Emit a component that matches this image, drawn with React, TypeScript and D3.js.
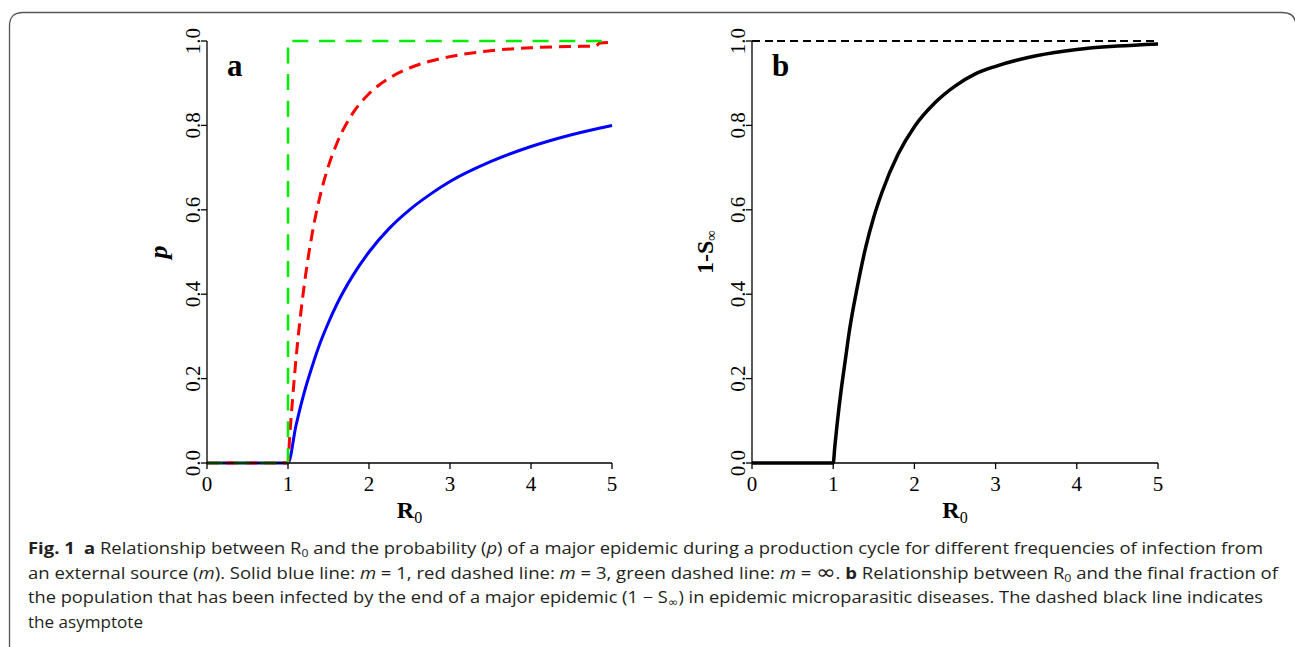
import React from 'react';
import * as d3 from 'd3';

// ---- Data ----
const R0_TICKS = [0, 1, 2, 3, 4, 5];
const Y_TICKS = [0, 0.2, 0.4, 0.6, 0.8, 1.0];

// Panel a: blue solid (m = 1)
const blueR0 = [0, 1, 1.1, 1.2, 1.3, 1.4, 1.5, 1.6, 1.8, 2.0, 2.25, 2.5, 2.75, 3.0, 3.5, 4.0, 4.5, 5.0];
const blueP = [0, 0, 0.09, 0.167, 0.23, 0.286, 0.333, 0.375, 0.444, 0.5, 0.556, 0.6, 0.636, 0.667, 0.714, 0.75, 0.778, 0.8];

// Panel a: red dashed (m = 3)
const redR0 = [0, 1, 1.02, 1.05, 1.1, 1.15, 1.2, 1.3, 1.4, 1.5, 1.6, 1.8, 2.0, 2.25, 2.5, 2.75, 3.0, 3.5, 4.0, 4.5, 4.8, 4.85, 5.0];
const redP = [0, 0, 0.06, 0.136, 0.249, 0.342, 0.421, 0.545, 0.636, 0.704, 0.756, 0.829, 0.875, 0.912, 0.936, 0.952, 0.963, 0.977, 0.984, 0.987, 0.988, 0.995, 0.997];

// Panel a: green dashed (m = infinity)
const greenR0 = [0, 1, 1, 5];
const greenP = [0, 0, 1, 1];

// Panel b: final size 1 - S_inf
const finalR0 = [0, 1, 1.02, 1.05, 1.1, 1.15, 1.2, 1.3, 1.4, 1.5, 1.6, 1.8, 2.0, 2.25, 2.5, 2.75, 3.0, 3.5, 4.0, 4.5, 5.0];
const finalS = [0, 0, 0.039, 0.095, 0.176, 0.245, 0.314, 0.42, 0.511, 0.583, 0.641, 0.732, 0.797, 0.853, 0.893, 0.922, 0.94, 0.965, 0.98, 0.988, 0.993];

// Asymptote
const asymR0 = [0, 5];
const asymY = [1, 1];

const serif = '"Liberation Serif", "DejaVu Serif", serif';
const sans = '"Open Sans", "Noto Sans", sans-serif';

type Series = { xs: number[]; ys: number[]; color: string; width: number; dash?: string; smooth?: boolean; crisp?: boolean };

function Panel({ left, right, top, bottom, series, label, yLabel }: {
  left: number; right: number; top: number; bottom: number;
  series: Series[]; label: string; yLabel: React.ReactNode;
}) {
  const x = d3.scaleLinear().domain([0, 5]).range([left, right]);
  const y = d3.scaleLinear().domain([0, 1]).range([bottom, top]);
  const fmt = d3.format('.1f');
  return (
    <g>
      {series.map((s, i) => {
        const line = d3.line<[number, number]>().x(d => x(d[0])).y(d => y(d[1]))
          .curve(s.smooth ? d3.curveMonotoneX : d3.curveLinear);
        return (
          <path key={i} d={line(s.xs.map((v, j) => [v, s.ys[j]] as [number, number])) || ''}
            fill="none" stroke={s.color} strokeWidth={s.width} strokeDasharray={s.dash}
            strokeLinejoin="round" shapeRendering={s.crisp ? 'crispEdges' : undefined} />
        );
      })}
      {/* axes */}
      <line x1={left} x2={left} y1={y(1)} y2={y(0)} stroke="#000" strokeWidth={1.3} />
      <line x1={x(0)} x2={x(5)} y1={bottom} y2={bottom} stroke="#000" strokeWidth={1.3} />
      {R0_TICKS.map(t => (
        <g key={'x' + t}>
          <line x1={x(t)} x2={x(t)} y1={bottom} y2={bottom + 6} stroke="#000" strokeWidth={1.3} />
          <text x={x(t)} y={bottom + 28} textAnchor="middle" fontFamily={serif} fontSize={21}>{t}</text>
        </g>
      ))}
      {Y_TICKS.map(t => (
        <g key={'y' + t}>
          <line x1={left - 6} x2={left} y1={y(t)} y2={y(t)} stroke="#000" strokeWidth={1.3} />
          <text transform={`translate(${left - 7},${y(t)}) rotate(-90)`} textAnchor="middle"
            fontFamily={serif} fontSize={21}>{fmt(t)}</text>
        </g>
      ))}
      <text x={(left + right) / 2} y={bottom + 55} textAnchor="middle" fontFamily={serif}>
        <tspan fontWeight="bold" fontSize={24}>R</tspan>
        <tspan fontSize={16} dy={5}>0</tspan>
      </text>
      {yLabel}
      <text x={left + 20} y={76} fontFamily={serif} fontWeight="bold" fontSize={31}>{label}</text>
    </g>
  );
}

export default function App() {
  const top = 41, bottom = 463;
  return (
    <svg width={1295} height={647} style={{ position: 'absolute', left: 0, top: 0, background: '#fff' }}>
      <rect x={0} y={0} width={1295} height={647} fill="#fff" />
      <path d="M 9.5 647 L 9.5 26 Q 9.5 12.5 23 12.5 L 1282 12.5 Q 1296 12.5 1296 26 L 1296 647"
        fill="none" stroke="#555" strokeWidth={1.3} />
      <Panel left={207} right={612} top={top} bottom={bottom} label="a"
        series={[
          { xs: blueR0, ys: blueP, color: '#0000ff', width: 3, smooth: true },
          { xs: redR0, ys: redP, color: '#ff0000', width: 3, dash: '12 7', smooth: true },
          { xs: greenR0, ys: greenP, color: '#00ee00', width: 2.5, dash: '16 10.7' },
        ]}
        yLabel={<text transform={`translate(167,252) rotate(-90)`} textAnchor="middle" fontFamily={serif}
          fontWeight="bold" fontStyle="italic" fontSize={26}>p</text>}
      />
      <Panel left={752} right={1158} top={top} bottom={bottom} label="b"
        series={[
          { xs: asymR0, ys: asymY, color: '#000', width: 1.3, dash: '8 4.7', crisp: true },
          { xs: finalR0, ys: finalS, color: '#000', width: 3.5, smooth: true },
        ]}
        yLabel={<text transform={`translate(713,252) rotate(-90)`} textAnchor="middle" fontFamily={serif}>
          <tspan fontWeight="bold" fontSize={24}>1-S</tspan>
          <tspan fontSize={15} dy={3}>∞</tspan>
        </text>}
      />
      <g fontFamily={sans} fontSize={15.8} fill="#231f20">
        <text x={28} y={554} textLength={1235} lengthAdjust="spacingAndGlyphs">
          <tspan fontWeight="bold">Fig. 1</tspan>
          <tspan fontWeight="bold" dx={8}>a</tspan>
          <tspan> Relationship between R</tspan>
          <tspan fontSize={10.5} dy={3}>0</tspan>
          <tspan dy={-3}> and the probability (</tspan>
          <tspan fontStyle="italic">p</tspan>
          <tspan>) of a major epidemic during a production cycle for different frequencies of infection from</tspan>
        </text>
        <text x={28} y={578.5} textLength={1250} lengthAdjust="spacingAndGlyphs">
          <tspan>an external source (</tspan>
          <tspan fontStyle="italic">m</tspan>
          <tspan>). Solid blue line: </tspan>
          <tspan fontStyle="italic">m</tspan>
          <tspan> = 1, red dashed line: </tspan>
          <tspan fontStyle="italic">m</tspan>
          <tspan> = 3, green dashed line: </tspan>
          <tspan fontStyle="italic">m</tspan>
          <tspan> = </tspan>
          <tspan fontSize={20} fontFamily={'"DejaVu Sans", sans-serif'}>∞</tspan>
          <tspan>. </tspan>
          <tspan fontWeight="bold">b</tspan>
          <tspan> Relationship between R</tspan>
          <tspan fontSize={10.5} dy={3}>0</tspan>
          <tspan dy={-3}> and the final fraction of</tspan>
        </text>
        <text x={28} y={603} textLength={1235} lengthAdjust="spacingAndGlyphs">
          <tspan>the population that has been infected by the end of a major epidemic (1 − S</tspan>
          <tspan fontSize={11} dy={3} fontFamily={'"DejaVu Sans", sans-serif'}>∞</tspan>
          <tspan dy={-3}>) in epidemic microparasitic diseases. The dashed black line indicates</tspan>
        </text>
        <text x={28} y={627.5} textLength={115} lengthAdjust="spacingAndGlyphs">the asymptote</text>
      </g>
    </svg>
  );
}
